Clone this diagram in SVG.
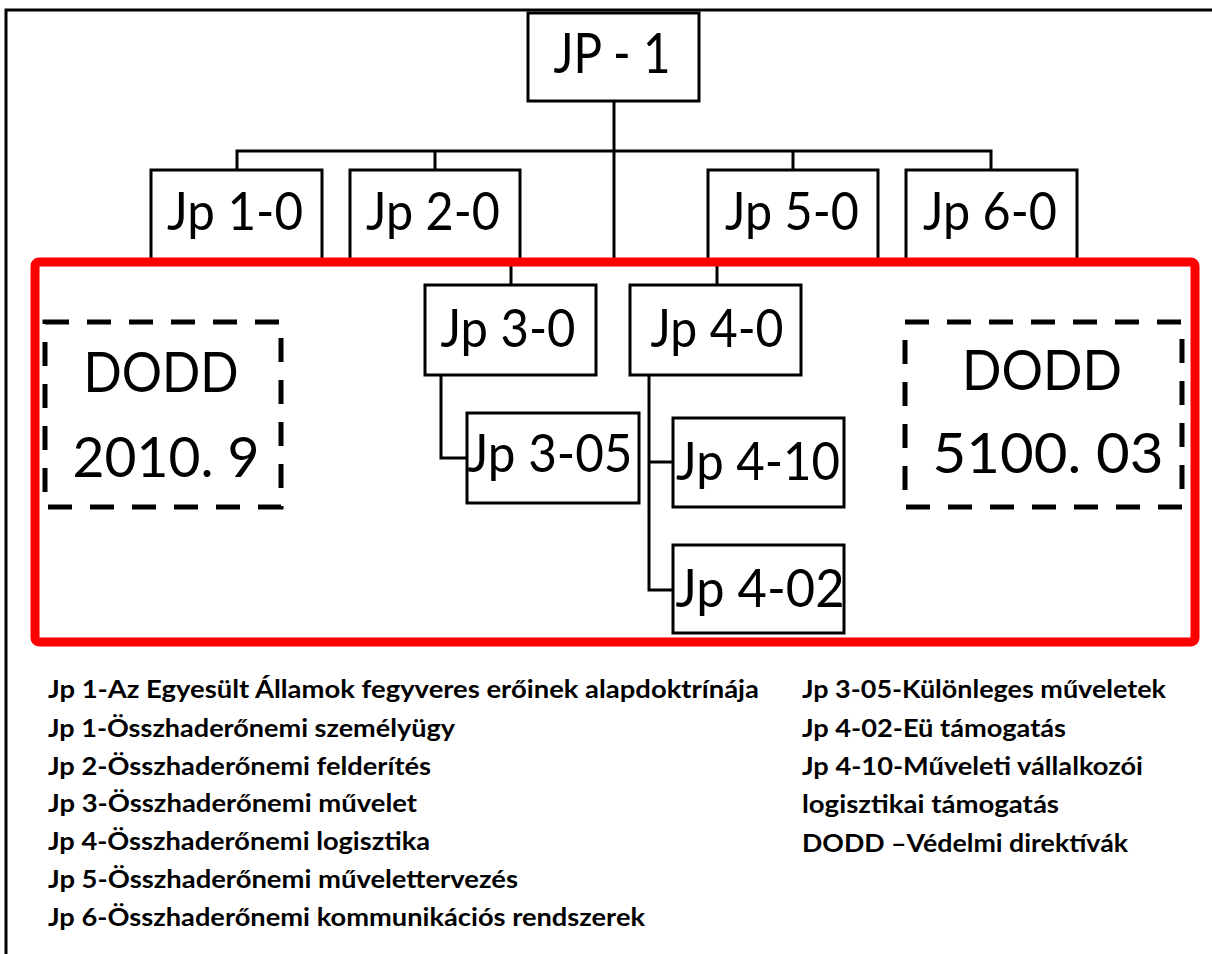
<svg xmlns="http://www.w3.org/2000/svg" width="1212" height="954" viewBox="0 0 1212 954">
<style>
.box{fill:#fff;stroke:#000;stroke-width:3}
.dash{fill:none;stroke:#000;stroke-width:5;stroke-dasharray:24 18}
.lbl{font-family:Lato,"Open Sans","Liberation Sans",sans-serif;font-size:52px;fill:#000;text-anchor:middle}
.big{font-size:56px}
.leg{font-family:Lato,"Open Sans","Liberation Sans",sans-serif;font-size:24px;font-weight:bold;fill:#000}
.con{fill:none;stroke:#000;stroke-width:3}
</style>
<rect width="1212" height="954" fill="#fff"/>
<path d="M6 954 V10 H1212" fill="none" stroke="#000" stroke-width="3"/>
<g id="connectors">
<path class="con" d="M614 101 V262"/>
<path class="con" d="M237 170 V151 H991 V170"/>
<path class="con" d="M435 151 V170"/>
<path class="con" d="M793 151 V170"/>
<path class="con" d="M511 262 V285"/>
<path class="con" d="M717 262 V285"/>
<path class="con" d="M441 375 V458 H467"/>
<path class="con" d="M649 375 V590 H673"/>
<path class="con" d="M649 462 H673"/>
</g>
<g id="jp1"><rect class="box" x="528" y="13" width="171" height="88"/><text class="lbl big" x="612" y="73" textLength="117" lengthAdjust="spacingAndGlyphs">JP - 1</text></g>
<g id="jp10"><rect class="box" x="151" y="170" width="171" height="92"/><text class="lbl" x="235" y="230" textLength="136" lengthAdjust="spacingAndGlyphs">Jp 1-0</text></g>
<g id="jp20"><rect class="box" x="350" y="170" width="170" height="92"/><text class="lbl" x="433" y="230" textLength="134" lengthAdjust="spacingAndGlyphs">Jp 2-0</text></g>
<g id="jp50"><rect class="box" x="708" y="170" width="170" height="92"/><text class="lbl" x="792" y="230" textLength="134" lengthAdjust="spacingAndGlyphs">Jp 5-0</text></g>
<g id="jp60"><rect class="box" x="906" y="170" width="171" height="92"/><text class="lbl" x="990" y="230" textLength="134" lengthAdjust="spacingAndGlyphs">Jp 6-0</text></g>
<g id="jp30"><rect class="box" x="425" y="285" width="171" height="90"/><text class="lbl" x="508" y="347" textLength="135" lengthAdjust="spacingAndGlyphs">Jp 3-0</text></g>
<g id="jp40"><rect class="box" x="630" y="285" width="171" height="90"/><text class="lbl" x="717" y="347" textLength="133" lengthAdjust="spacingAndGlyphs">Jp 4-0</text></g>
<g id="jp305"><rect class="box" x="467" y="413" width="172" height="90"/><text class="lbl" x="550" y="472" textLength="165" lengthAdjust="spacingAndGlyphs">Jp 3-05</text></g>
<g id="jp410"><rect class="box" x="673" y="418" width="171" height="89"/><text class="lbl" x="758" y="480" textLength="164" lengthAdjust="spacingAndGlyphs">Jp 4-10</text></g>
<g id="jp402"><rect class="box" x="673" y="545" width="171" height="88"/><text class="lbl" x="760" y="607" textLength="169" lengthAdjust="spacingAndGlyphs">Jp 4-02</text></g>
<g id="dodd1"><rect class="dash" x="45" y="322" width="236" height="185"/><text class="lbl big" x="161" y="392" textLength="155" lengthAdjust="spacingAndGlyphs">DODD</text><text class="lbl big" x="166" y="477" textLength="187" lengthAdjust="spacingAndGlyphs">2010. 9</text></g>
<g id="dodd2"><rect class="dash" x="905" y="322" width="277" height="185"/><text class="lbl big" x="1042" y="390" textLength="160" lengthAdjust="spacingAndGlyphs">DODD</text><text class="lbl big" x="1048" y="473" textLength="231" lengthAdjust="spacingAndGlyphs">5100. 03</text></g>
<g id="frame"><rect x="35" y="262" width="1160" height="380" rx="4" fill="none" stroke="#f00" stroke-width="9"/></g>
<g id="legend">
<text class="leg" x="48" y="698" textLength="711" lengthAdjust="spacingAndGlyphs">Jp 1-Az Egyesült Államok fegyveres erőinek alapdoktrínája</text>
<text class="leg" x="48" y="737" textLength="407" lengthAdjust="spacingAndGlyphs">Jp 1-Összhaderőnemi személyügy</text>
<text class="leg" x="48" y="775" textLength="383" lengthAdjust="spacingAndGlyphs">Jp 2-Összhaderőnemi felderítés</text>
<text class="leg" x="48" y="812" textLength="369" lengthAdjust="spacingAndGlyphs">Jp 3-Összhaderőnemi művelet</text>
<text class="leg" x="48" y="850" textLength="382" lengthAdjust="spacingAndGlyphs">Jp 4-Összhaderőnemi logisztika</text>
<text class="leg" x="48" y="888" textLength="470" lengthAdjust="spacingAndGlyphs">Jp 5-Összhaderőnemi művelettervezés</text>
<text class="leg" x="48" y="926" textLength="597" lengthAdjust="spacingAndGlyphs">Jp 6-Összhaderőnemi kommunikációs rendszerek</text>
<text class="leg" x="802" y="698" textLength="364" lengthAdjust="spacingAndGlyphs">Jp 3-05-Különleges műveletek</text>
<text class="leg" x="802" y="737" textLength="264" lengthAdjust="spacingAndGlyphs">Jp 4-02-Eü támogatás</text>
<text class="leg" x="802" y="775" textLength="341" lengthAdjust="spacingAndGlyphs">Jp 4-10-Műveleti vállalkozói</text>
<text class="leg" x="802" y="813" textLength="257" lengthAdjust="spacingAndGlyphs">logisztikai támogatás</text>
<text class="leg" x="802" y="852" textLength="326" lengthAdjust="spacingAndGlyphs">DODD –Védelmi direktívák</text>
</g>
</svg>
